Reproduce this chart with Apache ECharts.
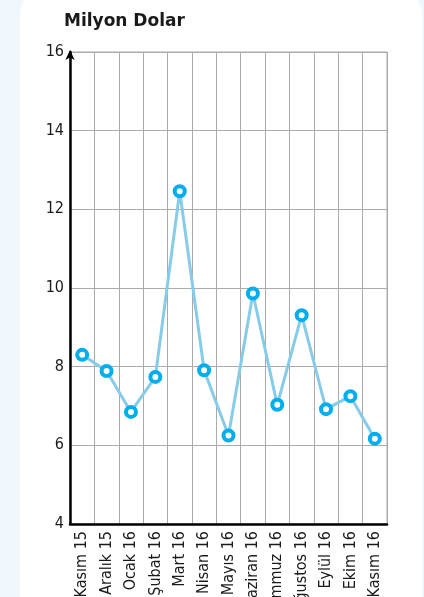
<!DOCTYPE html>
<html><head><meta charset="utf-8">
<script src="https://cdn.jsdelivr.net/npm/echarts@6/dist/echarts.min.js"></script>
<style>
html,body{margin:0;padding:0;width:424px;height:597px;overflow:hidden;background:#eff7fc;}
#card{position:absolute;left:20px;top:-10px;width:402px;height:640px;background:#fff;border-radius:24px;}
#c{position:absolute;left:0;top:0;width:424px;height:597px;}
</style></head>
<body><div id="card"></div><div id="c"></div>
<script>
const categories = ['Kasım 15','Aralık 15','Ocak 16','Şubat 16','Mart 16','Nisan 16','Mayıs 16','Haziran 16','Temmuz 16','Ağustos 16','Eylül 16','Ekim 16','Kasım 16'];
const values = [8.30, 7.89, 6.85, 7.74, 12.46, 7.91, 6.25, 9.86, 7.03, 9.31, 6.92, 7.25, 6.17];
const yTicks = [4, 6, 8, 10, 12, 14, 16];
const title = 'Milyon Dolar';
const narrow = "'Liberation Sans Narrow', 'DejaVu Sans Condensed', sans-serif";

const chart = echarts.init(document.getElementById('c'), null, {renderer:'canvas'});
chart.setOption({
  backgroundColor: 'transparent',
  animation: false,
  title: {text: title, left: 59, top: 8, textStyle: {fontFamily: 'DejaVu Sans', fontWeight: 'bold', fontSize: 17, color: '#1a1a1a'}},
  grid: {left: 70, top: 52, right: 37, bottom: 73, show: true, borderColor: '#aaa', borderWidth: 1, containLabel: false, outerBoundsMode: 'none'},
  xAxis: {
    type: 'category', data: categories, boundaryGap: true,
    axisLine: {lineStyle: {color: '#000', width: 2.5}},
    axisTick: {show: false},
    splitLine: {show: true, lineStyle: {color: '#aaa', width: 1}},
    axisLabel: {rotate: 90, interval: 0, margin: 7, fontFamily: narrow, fontSize: 16, color: '#1a1a1a'}
  },
  yAxis: {
    type: 'value', min: yTicks[0], max: yTicks[yTicks.length-1], interval: 2,
    axisLine: {show: true, lineStyle: {color: '#000', width: 2.5}, symbol: ['none','arrow'], symbolSize: [7,10], symbolOffset: [0, 2]},
    axisTick: {show: false},
    splitLine: {show: true, lineStyle: {color: '#aaa', width: 1}},
    axisLabel: {margin: 6, fontFamily: narrow, fontSize: 16, color: '#1a1a1a'}
  },
  series: [{
    type: 'line', data: values,
    symbol: 'circle', symbolSize: 10,
    lineStyle: {color: '#86cbe8', width: 3},
    itemStyle: {color: '#fff', borderColor: '#00aeef', borderWidth: 4},
    z: 5
  }]
});
</script></body></html>
